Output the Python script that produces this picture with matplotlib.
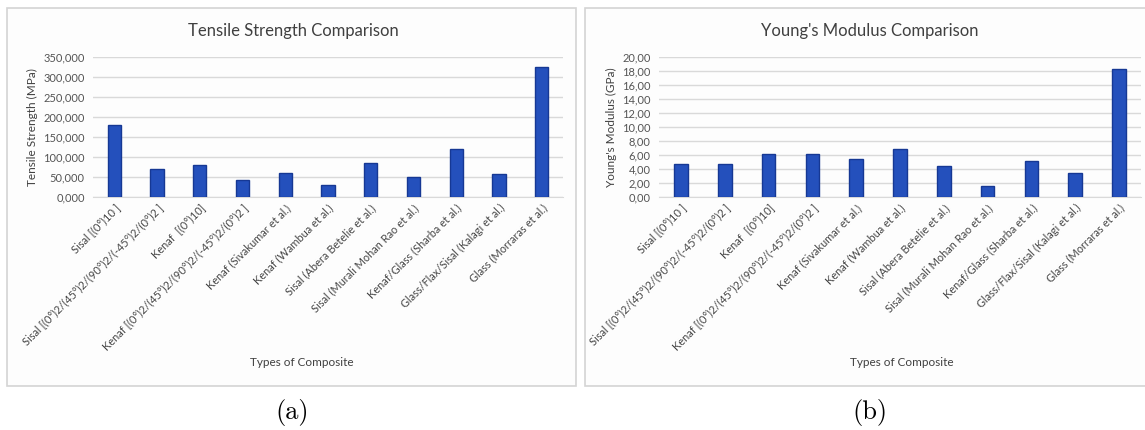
import numpy as np
import matplotlib
matplotlib.use("Agg")
from matplotlib import pyplot as plt
from matplotlib.patches import Rectangle
from matplotlib.ticker import FuncFormatter

composites = [
    "Sisal [(0°)10 ]",
    "Sisal [(0°)2/(45°)2/(90°)2/(-45°)2/(0°)2 ]",
    "Kenaf  [(0°)10]",
    "Kenaf [(0°)2/(45°)2/(90°)2/(-45°)2/(0°)2 ]",
    "Kenaf (Sivakumar et al.)",
    "Kenaf (Wambua et al.)",
    "Sisal (Abera Betelie et al.)",
    "Sisal (Murali Mohan Rao et al.)",
    "Kenaf/Glass (Sharba et al.)",
    "Glass/Flax/Sisal (Kalagi et al.)",
    "Glass (Morraras et al.)",
]
tensile = [179, 70, 79, 42, 59, 28.5, 83.5, 48.5, 118.5, 56, 324]
modulus = [4.67, 4.67, 6.1, 6.1, 5.43, 6.77, 4.38, 1.48, 5.1, 3.34, 18.24]
tensile_ticks = [0, 50, 100, 150, 200, 250, 300, 350]
modulus_ticks = [0, 2, 4, 6, 8, 10, 12, 14, 16, 18, 20]

W, H = 1145, 430
plt.rcParams['font.family'] = ['Lato', 'DejaVu Sans']
fig = plt.figure(figsize=(W / 100, H / 100), dpi=100)
fig.patch.set_facecolor('white')


def px_box(x0, y0, x1, y1):
    return [x0 / W, 1 - y1 / H, (x1 - x0) / W, (y1 - y0) / H]


# panel frames
for x0, x1 in [(7, 576), (585, 1150)]:
    r = Rectangle((x0 / W, 1 - 386 / H), (x1 - x0) / W, (386 - 8) / H,
                  transform=fig.transFigure, facecolor='#fdfdfd',
                  edgecolor='#d4d4d4', linewidth=1.2, zorder=0)
    fig.add_artist(r)


def draw(ax, vals, ticks, fmt, ylabel):
    x = np.arange(len(composites))
    ax.bar(x, vals, width=0.31, color='#2450bc', edgecolor='#163894',
           linewidth=1.0, zorder=3)
    ax.set_xlim(-0.5, len(composites) - 0.5)
    ax.set_ylim(ticks[0], ticks[-1])
    ax.set_yticks(ticks)
    ax.yaxis.set_major_formatter(FuncFormatter(lambda v, p: fmt.format(v).replace('.', ',')))
    ax.set_xticks(x)
    ax.set_xticklabels(composites, rotation=45, ha='right', rotation_mode='anchor',
                       fontsize=7.9, color='#454545')
    ax.tick_params(axis='y', labelsize=8, colors='#555555', length=0, pad=6)
    ax.tick_params(axis='x', length=0, pad=4)
    ax.grid(axis='y', color='#d9d9d9', linewidth=1.0, zorder=0)
    for s in ['top', 'right', 'left']:
        ax.spines[s].set_visible(False)
    ax.spines['bottom'].set_color('#d9d9d9')
    ax.set_facecolor('none')
    ax.set_ylabel(ylabel, fontsize=8.5, color='#404040', labelpad=4)
    return ax


ax1 = fig.add_axes(px_box(93, 56.7, 563, 196.7))
draw(ax1, tensile, tensile_ticks, "{:.3f}", "Tensile Strength (MPa)")
ax2 = fig.add_axes(px_box(659, 56.7, 1141, 196.7))
draw(ax2, modulus, modulus_ticks, "{:.2f}", "Young's Modulus (GPa)")

fig.text(293 / W, 1 - 31 / H, "Tensile Strength Comparison", fontsize=12,
         color='#404040', ha='center', va='center')
fig.text(870 / W, 1 - 31 / H, "Young's Modulus Comparison", fontsize=12,
         color='#404040', ha='center', va='center')
fig.text(302 / W, 1 - 363 / H, "Types of Composite", fontsize=8.5,
         color='#404040', ha='center', va='center')
fig.text(902 / W, 1 - 363 / H, "Types of Composite", fontsize=8.5,
         color='#404040', ha='center', va='center')

fig.text(292 / W, 1 - 412 / H, "(a)", fontsize=19, family='cmr10',
         ha='center', va='center')
fig.text(870 / W, 1 - 412 / H, "(b)", fontsize=19, family='cmr10',
         ha='center', va='center')

fig.savefig("out.png", dpi=100)
